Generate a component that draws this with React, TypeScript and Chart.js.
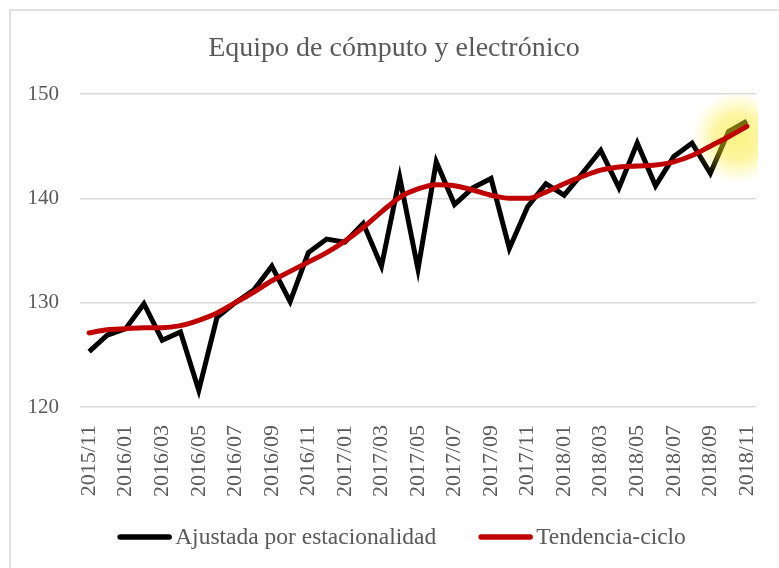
import React, { useEffect, useRef } from "react";
import { Chart, registerables } from "chart.js";

Chart.register(...registerables);

const TITLE = "Equipo de cómputo y electrónico";
const months: string[] = [
  "2015/11", "2015/12", "2016/01", "2016/02", "2016/03", "2016/04", "2016/05", "2016/06",
  "2016/07", "2016/08", "2016/09", "2016/10", "2016/11", "2016/12", "2017/01", "2017/02",
  "2017/03", "2017/04", "2017/05", "2017/06", "2017/07", "2017/08", "2017/09", "2017/10",
  "2017/11", "2017/12", "2018/01", "2018/02", "2018/03", "2018/04", "2018/05", "2018/06",
  "2018/07", "2018/08", "2018/09", "2018/10", "2018/11",
];
const ajustada: number[] = [
  125.3, 126.9, 127.5, 129.9, 126.4, 127.2, 121.6, 128.6, 130.0, 131.2, 133.5, 130.1, 134.8,
  136.1, 135.8, 137.6, 133.5, 142.0, 133.2, 143.5, 139.4, 141.0, 141.9, 135.2, 139.2,
  141.4, 140.3, 142.4, 144.6, 141.0, 145.3, 141.2, 144.0, 145.3, 142.4, 146.4, 147.4,
];
const tendencia: number[] = [
  127.1, 127.4, 127.5, 127.6, 127.6, 127.8, 128.3, 129.0, 130.0, 131.0, 132.1, 133.0, 133.9,
  134.8, 135.9, 137.2, 138.7, 140.1, 140.9, 141.3, 141.2, 140.8, 140.3, 140.0, 140.0,
  140.6, 141.4, 142.1, 142.7, 143.0, 143.1, 143.2, 143.5, 144.1, 145.0, 145.9, 146.9,
];
const seriesNames: string[] = ["Ajustada por estacionalidad", "Tendencia-ciclo"];
const seriesColors: string[] = ["#000000", "#C00000"];
const yTicks = { min: 120, max: 150, step: 10 };

const FONT = "'Liberation Serif', serif";
const TEXT = "#595959";

const borderPlugin = {
  id: "outerBorder",
  beforeDraw(chart: any) {
    const ctx = chart.ctx;
    ctx.save();
    ctx.fillStyle = "#ffffff";
    ctx.fillRect(0, 0, chart.width, chart.height);
    ctx.strokeStyle = "#d9d9d9";
    ctx.lineWidth = 1.5;
    ctx.strokeRect(10, 10, chart.width + 20, chart.height + 20);
    ctx.restore();
  },
};

const titlePlugin = {
  id: "customTitle",
  afterDraw(chart: any) {
    const ctx = chart.ctx;
    ctx.save();
    ctx.font = `28px ${FONT}`;
    ctx.fillStyle = TEXT;
    ctx.textAlign = "center";
    ctx.textBaseline = "alphabetic";
    ctx.fillText(TITLE, chart.width / 2 + 4.5, 56);
    ctx.restore();
  },
};

const glowPlugin = {
  id: "endGlow",
  afterDatasetDraw(chart: any, args: any) {
    if (args.index !== 0) return;
    const meta = chart.getDatasetMeta(0);
    const n = meta.data.length;
    const a = meta.data[n - 1];
    const b = meta.data[n - 2];
    const cx = (a.x + b.x) / 2;
    const cy = (a.y + b.y) / 2 + 11;
    const r = 46;
    const ctx = chart.ctx;
    const area = chart.chartArea;
    ctx.save();
    ctx.beginPath();
    ctx.rect(area.left, 0, area.right - area.left + 2, chart.height);
    ctx.clip();
    const g = ctx.createRadialGradient(cx, cy, 0, cx, cy, r);
    g.addColorStop(0, "rgba(250,232,30,0.55)");
    g.addColorStop(0.5, "rgba(250,232,30,0.42)");
    g.addColorStop(1, "rgba(250,240,80,0)");
    ctx.fillStyle = g;
    ctx.fillRect(cx - r, cy - r, 2 * r, 2 * r);
    ctx.restore();
  },
};

const legendPlugin = {
  id: "customLegend",
  afterDraw(chart: any) {
    const ctx = chart.ctx;
    const fontSize = 23.5;
    const sample = 55;
    const textGap = 3;
    const itemGap = 42;
    ctx.save();
    ctx.font = `${fontSize}px ${FONT}`;
    const items = chart.data.datasets.map((ds: any) => ({
      text: ds.label as string,
      color: ds.borderColor as string,
      w: ctx.measureText(ds.label).width,
    }));
    const total =
      items.reduce((s: number, it: any) => s + sample + textGap + it.w, 0) + itemGap * (items.length - 1);
    let x = chart.width / 2 + 12 - total / 2;
    const y = chart.height - 31;
    for (const it of items) {
      ctx.strokeStyle = it.color;
      ctx.lineWidth = 5.5;
      ctx.lineCap = "round";
      ctx.beginPath();
      ctx.moveTo(x + 3, y);
      ctx.lineTo(x + sample - 3, y);
      ctx.stroke();
      ctx.fillStyle = TEXT;
      ctx.textBaseline = "middle";
      ctx.textAlign = "left";
      ctx.fillText(it.text, x + sample + textGap, y + 1);
      x += sample + textGap + it.w + itemGap;
    }
    ctx.restore();
  },
};

export default function App() {
  const ref = useRef<HTMLCanvasElement>(null);
  useEffect(() => {
    if (!ref.current) return;
    const chart = new Chart(ref.current, {
      type: "line",
      data: {
        labels: months,
        datasets: [
          {
            label: seriesNames[0],
            data: ajustada,
            borderColor: seriesColors[0],
            backgroundColor: seriesColors[0],
            borderWidth: 5,
            pointRadius: 0,
            tension: 0,
            order: 2,
          },
          {
            label: seriesNames[1],
            data: tendencia,
            borderColor: seriesColors[1],
            backgroundColor: seriesColors[1],
            borderWidth: 5,
            pointRadius: 0,
            tension: 0.4,
            cubicInterpolationMode: "monotone",
            borderCapStyle: "round",
            order: 1,
          },
        ],
      },
      options: {
        animation: false,
        responsive: false,
        maintainAspectRatio: false,
        layout: { padding: { top: 94, left: 20, right: 23, bottom: 57 } },
        plugins: {
          title: { display: false },
          legend: { display: false },
          tooltip: { enabled: false },
        },
        scales: {
          x: {
            offset: true,
            afterFit: (scale: any) => {
              scale.paddingLeft = 0;
              scale.paddingRight = 0;
              scale.height = 104;
            },
            grid: { display: false },
            border: { display: false },
            ticks: {
              autoSkip: false,
              maxRotation: 90,
              minRotation: 90,
              color: TEXT,
              font: { family: FONT, size: 22 },
              padding: 10,
              callback: (_v: any, i: number) => (i % 2 === 0 ? months[i] : ""),
            },
          },
          y: {
            min: yTicks.min,
            max: yTicks.max,
            afterFit: (scale: any) => {
              scale.width = 60;
            },
            grid: { color: "#d9d9d9", lineWidth: 1.5, drawTicks: false },
            border: { display: false },
            ticks: {
              stepSize: yTicks.step,
              color: TEXT,
              font: { family: FONT, size: 21 },
              padding: 21,
            },
          },
        },
      },
      plugins: [borderPlugin, glowPlugin, legendPlugin, titlePlugin],
    });
    return () => chart.destroy();
  }, []);
  return (
    <div style={{ position: "fixed", left: 0, top: 0, width: 779, height: 568, background: "#fff" }}>
      <canvas ref={ref} width={779} height={568} style={{ display: "block" }} />
    </div>
  );
}
